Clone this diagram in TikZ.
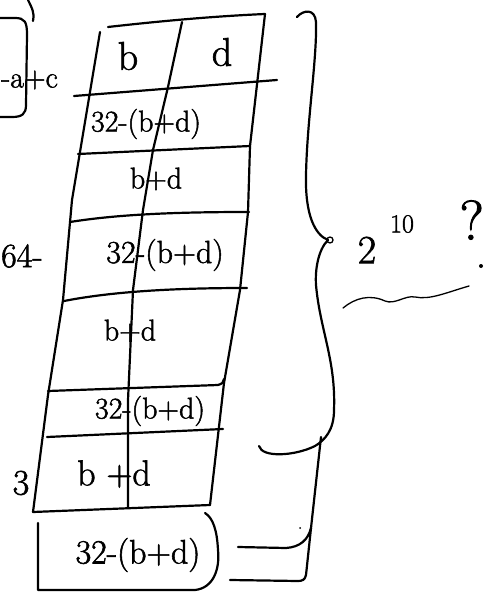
\documentclass[tikz,border=0pt]{standalone}
\usepackage{fontspec}
\newfontfamily\hand{Latin Modern Roman}[FakeBold=1.6]
\begin{document}
\begin{tikzpicture}[x=1pt,y=-1pt,
  ink/.style={line width=2.2pt, line cap=round, line join=round},
  thin ink/.style={line width=1.3pt, line cap=round, line join=round},
  txt/.style={inner sep=0pt, font=\hand\fontsize{30}{32}\selectfont},
  big/.style={inner sep=0pt, font=\hand\fontsize{36}{38}\selectfont}]
\useasboundingbox (0,0) rectangle (486,593);

% top-left curve and left box
\draw[ink] (28,0) .. controls (32,8) and (35,14) .. (33,21);
\draw[ink] (0,18) -- (15,18) .. controls (25,18) and (27,22) .. (27,35) -- (26,105) .. controls (26,114) and (22,117) .. (12,117) -- (0,117);
\node[txt, font=\hand\fontsize{30}{32}\selectfont, anchor=west] (amc) at (1,80) {-a+c};
\node[txt, font=\hand\fontsize{34}{36}\selectfont, anchor=west] (sixtyfour) at (1,256) {64-};
\node[big] (three) at (21,483) {3};

% table outline
\draw[ink] (108,27) .. controls (170,20) and (220,16) .. (265,14);
\draw[ink] (265,14) -- (250,146) -- (248,212) -- (240,290) -- (224,383) -- (210,505);
\draw[ink] (100,32) -- (72,200) -- (63,300) -- (48,395) -- (33,512);
\draw[ink] (33,512) -- (210,505);
\draw[ink] (182,22) -- (168,87) -- (153,150) -- (143,210) -- (133,290) -- (128,400) -- (128,507);
% rows
\draw[ink] (74,96) -- (277,80);
\draw[ink] (78,154) -- (250,146);
\draw[ink] (70,222) .. controls (120,214) and (180,212) .. (249,212);
\draw[ink] (64,301) .. controls (120,290) and (190,288) .. (247,288);
\draw[ink] (48,391) -- (218,385) .. controls (222,384) and (224,382) .. (224,379);
\draw[ink] (47,437) -- (223,429);

% cell texts
\node[big, font=\hand\fontsize{40}{42}\selectfont] (hb) at (128,56) {b};
\node[big, font=\hand\fontsize{40}{42}\selectfont] (hd) at (222,52) {d};
\node[txt] (r2) at (146,124) {32-(b+d)};
\node[txt] (r3) at (156,179) {b+d};
\node[txt, font=\hand\fontsize{32}{34}\selectfont] (r4) at (165,255) {32-(b+d)};
\node[txt] (r5) at (130,331) {b+d};
\node[txt] (r6) at (150,411) {32-(b+d)};
\node[big] (r7) at (114,474) {b +d};

% bottom box
\draw[ink] (38,523) -- (38,590) -- (195,590) .. controls (213,588) and (220,570) .. (218,550) .. controls (217,530) and (213,518) .. (205,513);
\node[big, font=\hand\fontsize{34}{36}\selectfont] (r8) at (138,555) {32-(b+d)};

% right brace
\coordinate (tip) at (328,240);
\draw[ink] (297,17) .. controls (303,10) and (315,8) .. (316,22) .. controls (317,60) and (307,120) .. (306,175) .. controls (305,215) and (315,235) .. (tip);
\draw[thin ink] (330,240) circle (3);
\draw[ink] (tip) .. controls (318,250) and (315,270) .. (316,285) .. controls (320,330) and (336,360) .. (334,410) .. controls (334,430) and (325,440) .. (315,446) .. controls (295,456) and (262,458) .. (259,446);
\draw[ink] (321,437) -- (311,528) .. controls (308,540) and (300,547) .. (286,548) -- (238,547);
\draw[ink] (311,528) -- (306,575) .. controls (305,580) and (302,581) .. (298,581) -- (230,580);
\fill (300,528) circle (1);

% 2^10 ?
\node[inner sep=0pt, font=\hand\fontsize{40}{42}\selectfont] (two) at (367,250) {2};
\node[inner sep=0pt, font=\hand\fontsize{26}{28}\selectfont] (ten) at (402,224) {10};
\node[inner sep=0pt, anchor=east, font=\hand\fontsize{56}{58}\selectfont] (q) at (484,220) {?};
\fill (481,266) circle (2);
\draw[thin ink] (343,308) .. controls (355,298) and (370,294) .. (385,301) .. controls (395,305) and (405,295) .. (415,297) .. controls (430,300) and (445,293) .. (469,286);
\end{tikzpicture}
\end{document}
